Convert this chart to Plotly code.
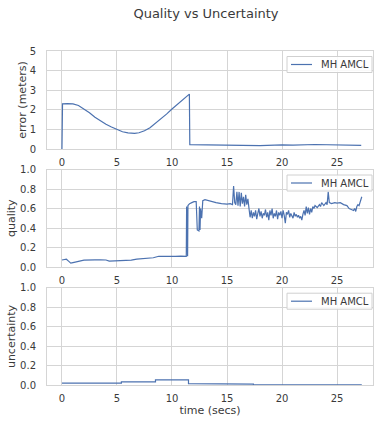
import plotly.graph_objects as go

# ---------------- data ----------------
series_name = "MH AMCL"

error_time = [0.0, 0.05, 0.5, 1.0, 1.5, 2.0, 2.5, 3.0, 3.5, 4.0, 4.5, 5.0, 5.5, 6.0, 6.6,
              7.0, 7.5, 8.0, 8.5, 9.0, 9.5, 10.0, 10.5, 11.0, 11.5, 11.58, 11.62, 13.0,
              15.0, 17.0, 18.0, 20.0, 21.0, 23.0, 24.0, 25.0, 27.2]
error_value = [0.0, 2.30, 2.32, 2.30, 2.22, 2.05, 1.85, 1.62, 1.43, 1.26, 1.12, 0.98, 0.88,
               0.82, 0.80, 0.83, 0.93, 1.08, 1.30, 1.53, 1.78, 2.04, 2.28, 2.54, 2.80, 2.80,
               0.22, 0.21, 0.18, 0.16, 0.17, 0.21, 0.20, 0.23, 0.22, 0.19, 0.18]

quality_time = [0.0, 0.2, 0.4, 0.6, 0.8, 1.0, 1.2, 1.5, 2.0, 2.5, 3.0, 3.5, 4.0, 4.3, 4.8,
                5.3, 5.8, 6.3, 6.8, 7.3, 7.8, 8.3, 8.8, 9.3, 9.8, 10.3, 10.8, 11.3,
                11.33, 11.36, 11.42, 11.45, 11.6, 11.8, 12.0, 12.2, 12.3, 12.45, 12.5, 12.55,
                12.6, 12.7, 12.8, 13.0, 13.3, 13.6, 14.0, 14.5, 15.0, 15.3, 15.5, 15.6, 15.7,
                15.8, 15.9, 16.0, 16.1, 16.2, 16.3, 16.4, 16.5, 16.6, 16.7, 16.8, 16.9, 17.0,
                17.1, 17.2, 17.3, 17.4, 17.5, 17.6, 17.7, 17.8, 17.9, 18.0, 18.1, 18.2, 18.3,
                18.4, 18.5, 18.6, 18.7, 18.8, 18.9, 19.0, 19.1, 19.2, 19.3, 19.4, 19.5, 19.6,
                19.7, 19.8, 19.9, 20.0, 20.1, 20.2, 20.3, 20.4, 20.5, 20.6, 20.7, 20.8, 20.9,
                21.0, 21.1, 21.2, 21.3, 21.4, 21.5, 21.6, 21.7, 21.8, 21.9, 22.0, 22.1, 22.2,
                22.3, 22.4, 22.5, 22.6, 22.7, 22.8, 22.9, 23.0, 23.2, 23.4, 23.5, 23.6, 23.8,
                24.0, 24.1, 24.2, 24.3, 24.5, 24.8, 25.0, 25.3, 25.6, 25.9, 26.1, 26.3, 26.5,
                26.6, 26.7, 26.8, 26.9, 27.0, 27.1, 27.25]
quality_value = [0.072, 0.075, 0.080, 0.060, 0.040, 0.045, 0.052, 0.058, 0.070, 0.075, 0.074,
                 0.073, 0.072, 0.060, 0.062, 0.062, 0.064, 0.070, 0.080, 0.085, 0.088, 0.095,
                 0.110, 0.108, 0.110, 0.110, 0.112, 0.108,
                 0.62, 0.11, 0.11, 0.63, 0.65, 0.66, 0.67, 0.67, 0.38, 0.37, 0.62, 0.38,
                 0.60, 0.50, 0.68, 0.69, 0.68, 0.67, 0.66, 0.65, 0.645, 0.65, 0.64, 0.83, 0.66,
                 0.64, 0.77, 0.63, 0.77, 0.62, 0.76, 0.65, 0.72, 0.62, 0.74, 0.64, 0.70, 0.60,
                 0.51, 0.58, 0.50, 0.56, 0.52, 0.58, 0.49, 0.55, 0.60, 0.52, 0.57, 0.50, 0.55,
                 0.53, 0.59, 0.51, 0.56, 0.48, 0.58, 0.53, 0.60, 0.50, 0.55, 0.52, 0.58, 0.49,
                 0.56, 0.53, 0.57, 0.50, 0.58, 0.53, 0.45, 0.56, 0.54, 0.58, 0.51, 0.55, 0.53,
                 0.50, 0.56, 0.52, 0.54, 0.51, 0.53, 0.50, 0.52, 0.48, 0.54, 0.58, 0.53, 0.62,
                 0.55, 0.61, 0.54, 0.60, 0.56, 0.62, 0.60, 0.63, 0.61, 0.64, 0.62, 0.66, 0.63,
                 0.66, 0.64, 0.77, 0.66, 0.65, 0.66, 0.655, 0.66, 0.64, 0.63, 0.60, 0.59, 0.58,
                 0.60, 0.57, 0.62, 0.64, 0.63, 0.67, 0.72]

uncert_time = [0.0, 5.4, 5.4, 8.5, 8.5, 11.5, 11.5, 14.5, 14.5, 17.4, 17.4, 27.25]
uncert_value = [0.022, 0.022, 0.035, 0.035, 0.055, 0.055, 0.018, 0.018, 0.012, 0.012, 0.005, 0.005]

x_ticks = [0, 5, 10, 15, 20, 25]
error_ticks = [0, 1, 2, 3, 4, 5]
frac_ticks = [0.0, 0.2, 0.4, 0.6, 0.8, 1.0]
frac_labels = ["0.0", "0.2", "0.4", "0.6", "0.8", "1.0"]

# ---------------- figure ----------------
W, H = 374, 422
LINE = "#4c72b0"
GRID = "#d5d5d5"
TXT = "#3a3a3a"
FONT = "DejaVu Sans"

def py(px):
    return 1 - px / H

def pxx(px):
    return px / W

panels = [(51, 149), (169.5, 267), (287.7, 385.3)]

fig = go.Figure()
fig.add_trace(go.Scatter(x=error_time, y=error_value, mode="lines", name=series_name,
                         line=dict(color=LINE, width=1.2), xaxis="x", yaxis="y",
                         showlegend=False))
fig.add_trace(go.Scatter(x=quality_time, y=quality_value, mode="lines", name=series_name,
                         line=dict(color=LINE, width=1.2), xaxis="x2", yaxis="y2",
                         showlegend=False))
fig.add_trace(go.Scatter(x=uncert_time, y=uncert_value, mode="lines", name=series_name,
                         line=dict(color=LINE, width=1.2), xaxis="x3", yaxis="y3",
                         showlegend=False))

xcommon = dict(range=[-1.36, 28.27], tickvals=x_ticks, showgrid=True, gridcolor=GRID,
               gridwidth=1, zeroline=False, showline=True, linecolor=GRID, mirror=True,
               tickfont=dict(size=10, color=TXT, family=FONT), ticks="", ticklabelstandoff=4,
               domain=[47 / W, 373 / W], automargin=False)
ycommon = dict(showgrid=True, gridcolor=GRID, gridwidth=1, zeroline=False, showline=True,
               linecolor=GRID, mirror=True, tickfont=dict(size=10, color=TXT, family=FONT),
               ticks="", ticklabelstandoff=8, automargin=False)

layout = dict(
    width=W, height=H, margin=dict(l=0, r=0, t=0, b=0, autoexpand=False),
    paper_bgcolor="white", plot_bgcolor="white", showlegend=False,
    font=dict(family=FONT, color=TXT),
    title=dict(text="Quality vs Uncertainty", x=pxx(206), xanchor="center", y=py(13),
               yanchor="middle", font=dict(size=13, color=TXT, family=FONT)),
)
titles = ["error (meters)", "quality", "uncertainty"]
standoffs = [0, 2, 2]
shapes = []
annotations = []
for i, (top, bot) in enumerate(panels):
    sfx = "" if i == 0 else str(i + 1)
    xa = dict(xcommon)
    xa["anchor"] = "y" + sfx
    if i == 2:
        xa["title"] = dict(text="time (secs)", font=dict(size=11, color=TXT, family=FONT), standoff=2)
    ya = dict(ycommon)
    ya["anchor"] = "x" + sfx
    ya["domain"] = [py(bot), py(top)]
    if i == 0:
        ya["range"] = [0, 5]
        ya["tickvals"] = error_ticks
    else:
        ya["range"] = [0, 1]
        ya["tickvals"] = frac_ticks
        ya["ticktext"] = frac_labels
    ya["title"] = dict(text=titles[i], font=dict(size=11, color=TXT, family=FONT),
                       standoff=standoffs[i])
    layout["xaxis" + sfx] = xa
    layout["yaxis" + sfx] = ya

    # legend box (per panel, upper right)
    btop = top + 5.5
    bbot = btop + 16
    shapes.append(dict(type="rect", xref="paper", yref="paper", layer="above",
                       x0=pxx(287), x1=pxx(372), y0=py(bbot), y1=py(btop),
                       line=dict(color="#d0d0d0", width=1),
                       fillcolor="rgba(255,255,255,0.85)"))
    shapes.append(dict(type="line", xref="paper", yref="paper", layer="above",
                       x0=pxx(291), x1=pxx(312), y0=py(btop + 8), y1=py(btop + 8),
                       line=dict(color=LINE, width=1.2)))
    annotations.append(dict(text=series_name, xref="paper", yref="paper", showarrow=False,
                            x=pxx(319), xanchor="left", y=py(btop + 8), yanchor="middle",
                            font=dict(size=10, color=TXT, family=FONT)))

layout["shapes"] = shapes
layout["annotations"] = annotations
fig.update_layout(**layout)
fig.write_html("out.html", config={"displayModeBar": False},
               post_script="document.body.style.margin='0';document.body.style.overflow='hidden';")
